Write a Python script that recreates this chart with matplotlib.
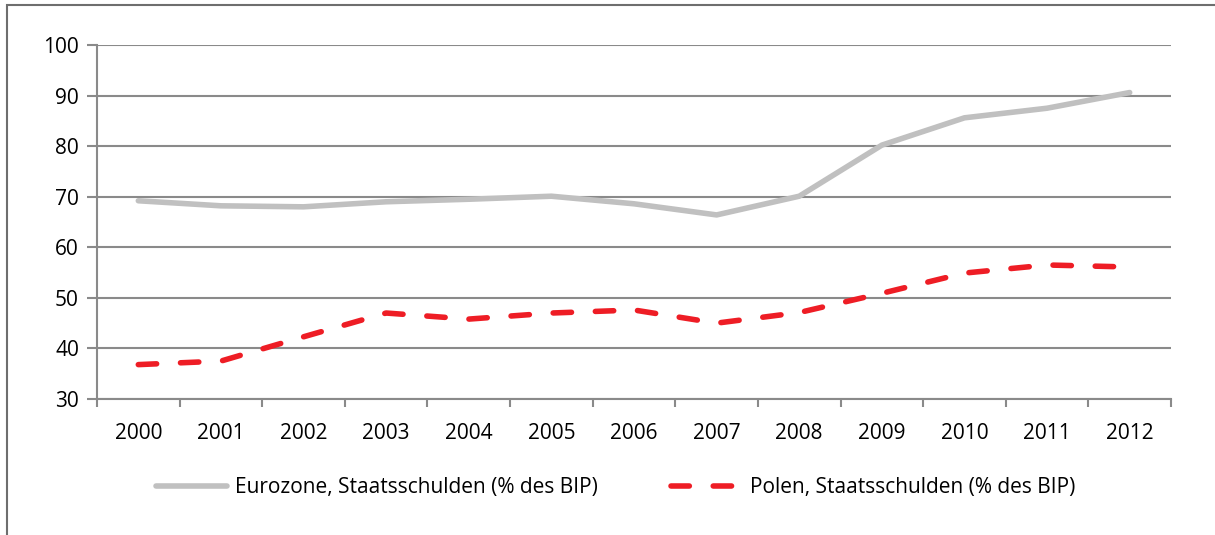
import matplotlib
matplotlib.use("Agg")
import numpy as np
from matplotlib import pyplot as plt
from matplotlib.patches import Rectangle

years = ["2000", "2001", "2002", "2003", "2004", "2005", "2006",
         "2007", "2008", "2009", "2010", "2011", "2012"]
eurozone = [69.2, 68.2, 68.0, 69.0, 69.5, 70.1, 68.6, 66.4, 70.1, 80.2, 85.6, 87.5, 90.6]
polen = [36.8, 37.5, 42.3, 47.0, 45.8, 47.0, 47.6, 45.0, 47.1, 50.9, 54.9, 56.5, 56.1]
yticks = [30, 40, 50, 60, 70, 80, 90, 100]

plt.rcParams['font.family'] = ['Open Sans', 'DejaVu Sans']
grid_col = "#8a8a8a"
fs = 15

fig = plt.figure(figsize=(12.15, 5.35), dpi=100)
ax = fig.add_axes([97 / 1215, 1 - 399 / 535, (1171 - 97) / 1215, (399 - 45) / 535])

# outer frame (only left and top visible in the original)
fig.add_artist(Rectangle((7 / 1215, -0.1), 1.2, 1 - 5 / 535 + 0.1, transform=fig.transFigure,
                         fill=False, edgecolor="#6e6e6e", linewidth=1.5))

x = np.arange(len(years))
ax.plot(x, eurozone, color="#c0c0c0", linewidth=4.0, solid_capstyle="round",
        solid_joinstyle="round", label="Eurozone, Staatsschulden (% des BIP)", zorder=3)
ax.plot(x, polen, color="#ee1d25", linewidth=4.0, dashes=(3.3, 4.3), dash_capstyle="round",
        label="Polen, Staatsschulden (% des BIP)", zorder=3)

ax.set_xlim(-0.5, len(years) - 0.5)
ax.set_ylim(30, 100)
ax.set_yticks(yticks)
ax.set_xticks(x)
ax.set_xticklabels(years)
ax.set_xticks(np.arange(len(years) + 1) - 0.5, minor=True)
ax.tick_params(axis="x", which="major", length=0, pad=17, labelsize=fs)
ax.tick_params(axis="x", which="minor", length=6, width=1.5, color=grid_col)
ax.tick_params(axis="y", length=7, width=1.5, color=grid_col, pad=6, labelsize=fs)

ax.grid(axis="y", color=grid_col, linewidth=1.5)
ax.set_axisbelow(True)
for s in ["top", "right"]:
    ax.spines[s].set_visible(False)
for s in ["left", "bottom"]:
    ax.spines[s].set_color(grid_col)
    ax.spines[s].set_linewidth(1.5)

ax.legend(loc="center", bbox_to_anchor=(0.483, -0.25), ncol=2, frameon=False,
          fontsize=fs, handlelength=3.4, handletextpad=0.4, columnspacing=3.5)

fig.savefig("out.png", dpi=100)
